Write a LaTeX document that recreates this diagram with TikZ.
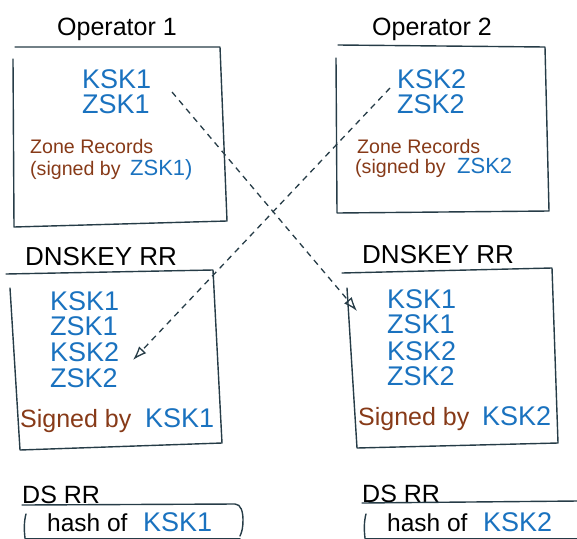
\documentclass[tikz,border=0pt]{standalone}
\usepackage{fontspec}
\setmainfont{Liberation Sans}
\usetikzlibrary{arrows.meta}
\definecolor{keyblue}{HTML}{1A72BF}
\definecolor{recbrown}{HTML}{873A18}
\definecolor{ink}{HTML}{263C47}

\begin{document}
\begin{tikzpicture}[x=1pt,y=-1pt,
  sketch/.style={draw=ink, line width=1.4pt, line cap=round, line join=round},
  link/.style={draw=ink, line width=1.3pt, dash pattern=on 6pt off 5pt,
    -{Latex[open,length=14pt,width=10pt]}},
  txt/.style={anchor=base west, inner sep=0pt, text depth=0pt},
  title/.style={txt, text=black, font=\fontsize{25}{25}\selectfont, text height=18pt},
  bigtitle/.style={txt, text=black, font=\fontsize{26}{26}\selectfont, text height=19pt},
  dstitle/.style={txt, text=black, font=\fontsize{25}{25}\selectfont, text height=18pt},
  key/.style={txt, text=keyblue, font=\fontsize{27}{27}\selectfont, text height=19pt},
  midkey/.style={txt, text=keyblue, font=\fontsize{22}{22}\selectfont, text height=16pt},
  rec/.style={txt, text=recbrown, font=\fontsize{19.6}{19.6}\selectfont, text height=14pt, text depth=4pt},
  signer/.style={txt, text=recbrown, font=\fontsize{25}{25}\selectfont, text height=18pt},
  hashtxt/.style={txt, text=black, font=\fontsize{24.5}{24.5}\selectfont, text height=18pt}]
\useasboundingbox (0,0) rectangle (577,538);

% ---- operator boxes ----
\draw[sketch] (15,47) -- (220,47) -- (227,221) -- (14,227) -- (13,59);
\draw[sketch] (338,45) -- (545,47) -- (549,211) -- (337,213) -- (336,58);

\node[title] (op1) at (57,35) {Operator 1};
\node[title] (op2) at (372,35) {Operator 2};

\node[key] (k1) at (82,88) {KSK1};
\node[key] (z1) at (82,113) {ZSK1};
\node[rec] (zr1) at (30,153) {Zone Records};
\node[rec] (sg1) at (30,175) {(signed by};
\node[midkey] (sz1) at (130,175) {ZSK1)};

\node[key] (k2) at (397,88) {KSK2};
\node[key] (z2) at (397,113) {ZSK2};
\node[rec] (zr2) at (357,153) {Zone Records};
\node[rec] (sg2) at (355,173) {(signed by};
\node[midkey] (sz2) at (457,173) {ZSK2};

% ---- DNSKEY RR sets ----
\node[bigtitle] (dk1) at (25,265) {DNSKEY RR};
\node[bigtitle] (dk2) at (362,263) {DNSKEY RR};
\draw[sketch] (6,274) -- (213,270) -- (222,443) -- (20,450) -- (10,288);
\draw[sketch] (342,273) -- (552,268) -- (558,443) -- (357,448) -- (347,288);

\node[key] (a1) at (50,310) {KSK1};
\node[key] (a2) at (50,335) {ZSK1};
\node[key] (a3) at (50,361) {KSK2};
\node[key] (a4) at (50,387) {ZSK2};
\node[signer] (s1) at (20,427) {Signed by};
\node[key] (s1k) at (145,427) {KSK1};

\node[key] (b1) at (387,308) {KSK1};
\node[key] (b2) at (387,333) {ZSK1};
\node[key] (b3) at (387,360) {KSK2};
\node[key] (b4) at (387,385) {ZSK2};
\node[signer] (s2) at (358,425) {Signed by};
\node[key] (s2k) at (482,425) {KSK2};

% ---- DS RR records ----
\node[dstitle] (ds1) at (22,503) {DS RR};
\node[dstitle] (ds2) at (362,502) {DS RR};
\draw[sketch] (22,505) -- (235,504) .. controls (241,504) and (243,512) .. (243,520)
  .. controls (243,527) and (242,532) .. (240,536);
\draw[sketch] (26,514) .. controls (24,521) and (24,530) .. (25,538);
\draw[sketch] (25,538.5) -- (240,538.5);
\draw[sketch] (362,503) -- (578,501);
\draw[sketch] (366,514) .. controls (364,521) and (364,530) .. (365,538);
\draw[sketch] (365,538.5) -- (578,538.5);
\node[hashtxt] (h1) at (47,531) {hash of};
\node[key] (h1k) at (143,531) {KSK1};
\node[hashtxt] (h2) at (387,531) {hash of};
\node[key] (h2k) at (483,531) {KSK2};

% ---- cross-publication links ----
\coordinate (fromA) at (172,92);
\coordinate (toA) at (357,311);
\coordinate (fromB) at (390,88);
\coordinate (toB) at (133,360);
\draw[link] (fromA) -- (toA);
\draw[link] (fromB) -- (toB);
\end{tikzpicture}
\end{document}
